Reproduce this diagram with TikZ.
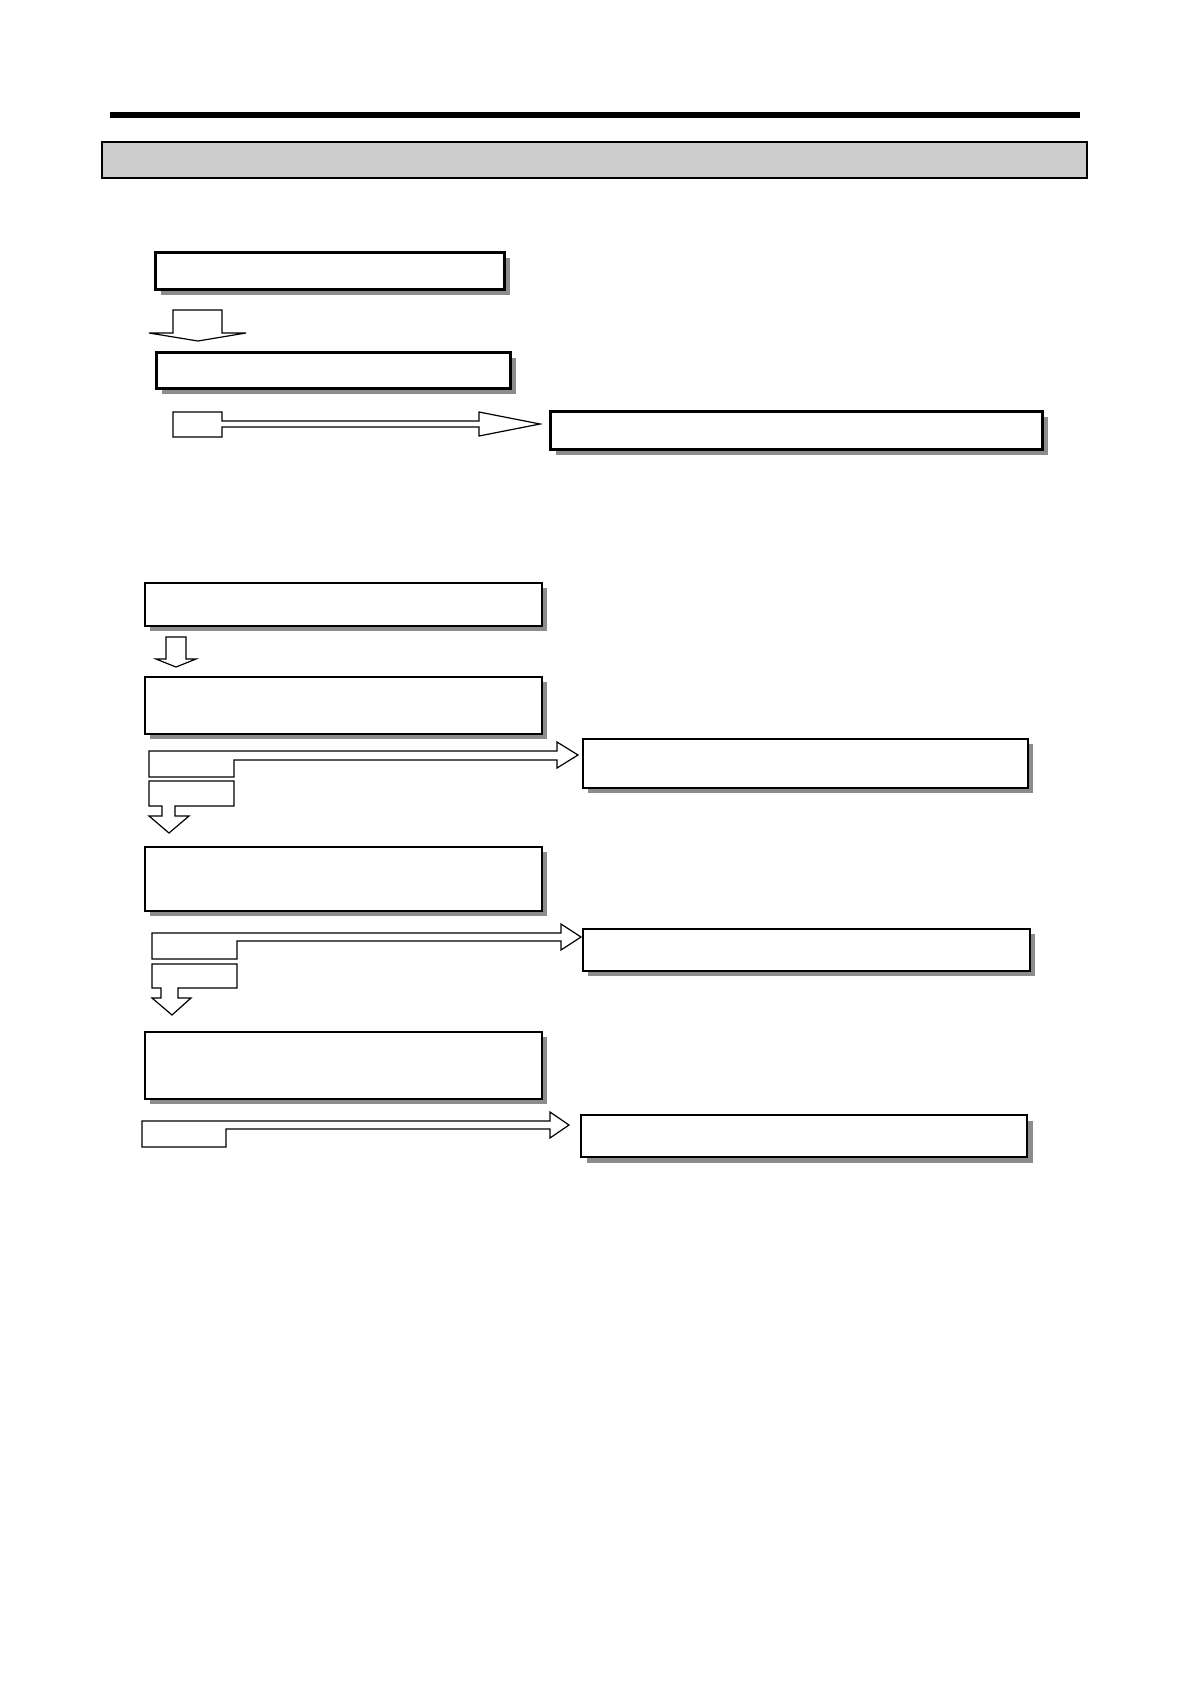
\documentclass[tikz,border=0pt]{standalone}
\usetikzlibrary{shadows}

\tikzset{
  heavybox/.style={draw, line width=3pt, fill=white, inner sep=0pt,
    drop shadow={shadow xshift=5.5pt, shadow yshift=-5.5pt, fill=black!45, opacity=1}},
  lightbox/.style={draw, line width=1.4pt, fill=white, inner sep=0pt,
    drop shadow={shadow xshift=4.5pt, shadow yshift=-4.5pt, fill=black!45, opacity=1}},
  fatarrow/.style={draw, line width=1.2pt, fill=white, line join=miter}
}

\begin{document}
\begin{tikzpicture}[x=1pt, y=-1pt]
  \useasboundingbox (0,0) rectangle (1191,1684);

  % header
  \fill (110,112) rectangle (1080,118);
  \node[draw, line width=1.2pt, fill=black!20, minimum width=985pt, minimum height=36pt] (title) at (594.5,160) {};

  % upper flow
  \node[heavybox, minimum width=349pt, minimum height=37pt] (top1) at (329.5,270.5) {};
  \node[heavybox, minimum width=354pt, minimum height=36pt] (top2) at (333,370) {};
  \node[heavybox, minimum width=492pt, minimum height=38pt] (topres) at (796,430) {};

  \draw[fatarrow] (173,310) -- (222,310) -- (222,333) -- (246,333) -- (198,341) -- (149,333) -- (173,333) -- cycle;
  \draw[fatarrow] (173,412) -- (222,412) -- (222,421) -- (479,421) -- (479,412) -- (540,424)
    -- (479,436) -- (479,427) -- (222,427) -- (222,437) -- (173,437) -- cycle;

  % lower flow
  \node[lightbox, minimum width=397pt, minimum height=43pt] (s1) at (343.5,604.5) {};
  \node[lightbox, minimum width=397pt, minimum height=57pt] (s2) at (343.5,705.5) {};
  \node[lightbox, minimum width=397pt, minimum height=64pt] (s3) at (343.5,879) {};
  \node[lightbox, line width=2pt, minimum width=397pt, minimum height=67pt] (s4) at (343.5,1065.5) {};
  \node[lightbox, minimum width=445pt, minimum height=49pt] (r1) at (805.5,763.5) {};
  \node[lightbox, minimum width=447pt, minimum height=42pt] (r2) at (806.5,950) {};
  \node[heavybox, line width=2.5pt, minimum width=446pt, minimum height=42pt] (r3) at (804,1136) {};

  % s1 to s2
  \draw[fatarrow] (166,637) -- (186,637) -- (186,659) -- (196,659) -- (176,667) -- (156,659) -- (166,659) -- cycle;

  % s2 to r1 and s3
  \draw[fatarrow] (149,751) -- (557,751) -- (557,742) -- (578,755) -- (557,768) -- (557,760)
    -- (234,760) -- (234,777) -- (149,777) -- cycle;
  \draw[fatarrow] (149,781) -- (234,781) -- (234,806) -- (175,806) -- (175,816) -- (189,816)
    -- (169,833) -- (149,816) -- (162,816) -- (162,806) -- (149,806) -- cycle;

  % s3 to r2 and s4
  \draw[fatarrow] (152,933) -- (561,933) -- (561,924) -- (581,937) -- (561,950) -- (561,941)
    -- (237,941) -- (237,959) -- (152,959) -- cycle;
  \draw[fatarrow] (152,964) -- (237,964) -- (237,988) -- (178,988) -- (178,998) -- (191,998)
    -- (172,1015) -- (152,998) -- (161,998) -- (161,988) -- (152,988) -- cycle;

  % s4 to r3
  \draw[fatarrow] (142,1121) -- (550,1121) -- (550,1112) -- (569,1125) -- (550,1138) -- (550,1129)
    -- (226,1129) -- (226,1147) -- (142,1147) -- cycle;
\end{tikzpicture}
\end{document}
